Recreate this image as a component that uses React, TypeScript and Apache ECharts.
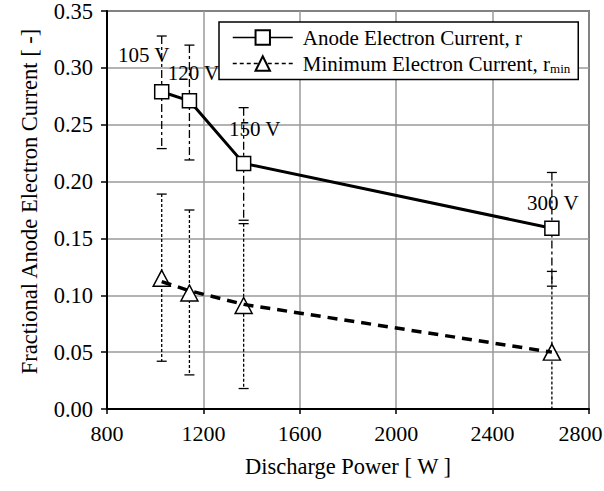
import React, { useEffect, useRef } from "react";
import * as echarts from "echarts";

const power = [1027, 1142, 1367, 2646];
const anodeCurrent = [0.279, 0.271, 0.216, 0.159];
const anodeErrLow = [0.229, 0.219, 0.166, 0.108];
const anodeErrHigh = [0.328, 0.320, 0.265, 0.208];
const minCurrent = [0.115, 0.102, 0.091, 0.050];
const minErrLow = [0.042, 0.030, 0.018, -0.021];
const minErrHigh = [0.189, 0.175, 0.163, 0.121];
const minTrend = [0.112, 0.104, 0.092, 0.050];
const voltageLabels = ["105 V", "120 V", "150 V", "300 V"];
const labelOffsets = [[-18, -37], [4, -28], [11, -34], [1, -25]];
const xTicks = { min: 800, max: 2800, interval: 400 };
const yTicks = { min: 0, max: 0.35, interval: 0.05 };

const FONT = "Liberation Serif";
const NAME_ANODE = "Anode Electron Current, r";
const NAME_MIN = "Minimum Electron Current, r_min";

function errorBarRender(dash: number[]) {
  return (params: any, api: any) => {
    const x = api.value(0);
    const lo = api.value(1);
    const hi = api.value(2);
    const p1 = api.coord([x, hi]);
    const p2 = api.coord([x, lo]);
    const w = 5;
    return {
      type: "group",
      children: [
        { type: "line", shape: { x1: p1[0], y1: p1[1], x2: p2[0], y2: p2[1] }, style: { stroke: "#000", lineWidth: 1.3, lineDash: dash } },
        { type: "line", shape: { x1: p1[0] - w, y1: p1[1], x2: p1[0] + w, y2: p1[1] }, style: { stroke: "#000", lineWidth: 1.3 } },
        { type: "line", shape: { x1: p2[0] - w, y1: p2[1], x2: p2[0] + w, y2: p2[1] }, style: { stroke: "#000", lineWidth: 1.3 } },
      ],
    };
  };
}

export default function App() {
  const ref = useRef<HTMLDivElement>(null);
  useEffect(() => {
    if (!ref.current) return;
    const chart = echarts.init(ref.current, null, { renderer: "svg" });
    const option: any = {
      animation: false,
      backgroundColor: "#fff",
      textStyle: { fontFamily: FONT },
      grid: {
        left: 107, right: 15, top: 11, bottom: 82,
        outerBoundsMode: "none", containLabel: false,
        show: true, borderColor: "#000", borderWidth: 1.5,
      },
      legend: {
        left: 219,
        top: 22,
        orient: "vertical",
        backgroundColor: "#fff",
        borderColor: "#000",
        borderWidth: 1.5,
        borderRadius: 0,
        padding: [5, 8, 5, 13],
        itemGap: 5,
        itemWidth: 60,
        itemHeight: 18,
        textStyle: {
          fontFamily: FONT,
          fontSize: 21,
          color: "#000",
          padding: [0, 0, 0, 5],
          rich: {
            sub: { fontFamily: FONT, fontSize: 13, color: "#000", padding: [9, 0, 0, 0] },
          },
        },
        formatter: (name: string) => (name === NAME_MIN ? "Minimum Electron Current, r{sub|min}" : name),
        data: [
          { name: NAME_ANODE, lineStyle: { width: 1.5, type: "solid", color: "#000", opacity: 1 } },
          { name: NAME_MIN, lineStyle: { width: 1.5, type: [4, 3], color: "#000", opacity: 1 } },
        ],
      },
      xAxis: {
        type: "value",
        min: xTicks.min,
        max: xTicks.max,
        interval: xTicks.interval,
        name: "Discharge Power [ W ]",
        nameLocation: "middle",
        nameGap: 46,
        nameTextStyle: { fontFamily: FONT, fontSize: 22.5, color: "#000" },
        axisLine: { lineStyle: { color: "#000", width: 2 } },
        axisTick: { show: true, length: 5, lineStyle: { color: "#000", width: 1.5 } },
        axisLabel: {
          fontFamily: FONT, fontSize: 22, color: "#000", margin: 13,
          formatter: (v: number) => (v === xTicks.max ? `{last|${v}}` : String(v)),
          rich: { last: { fontFamily: FONT, fontSize: 22, color: "#000", padding: [0, 17, 0, 0] } },
        },
        splitLine: { show: true, lineStyle: { color: "#9a9a9a", width: 1.5 } },
      },
      yAxis: {
        type: "value",
        min: yTicks.min,
        max: yTicks.max,
        interval: yTicks.interval,
        name: "Fractional Anode Electron Current [ -]",
        nameLocation: "middle",
        nameGap: 66,
        nameTextStyle: { fontFamily: FONT, fontSize: 22.5, color: "#000", padding: [0, 0, 0, 17] },
        axisLine: { show: true, lineStyle: { color: "#000", width: 2 } },
        axisTick: { show: true, length: 6, lineStyle: { color: "#000", width: 1.5 } },
        axisLabel: { fontFamily: FONT, fontSize: 22.5, color: "#000", margin: 14, formatter: (v: number) => v.toFixed(2) },
        splitLine: { show: true, lineStyle: { color: "#9a9a9a", width: 1.5 } },
      },
      series: [
        {
          type: "custom",
          name: "anodeErr",
          renderItem: errorBarRender([8, 3, 3, 3]),
          encode: { x: 0, y: [1, 2] },
          data: power.map((p, i) => [p, anodeErrLow[i], anodeErrHigh[i]]),
          clip: true,
          z: 2,
        },
        {
          type: "custom",
          name: "minErr",
          renderItem: errorBarRender([3, 2]),
          encode: { x: 0, y: [1, 2] },
          data: power.map((p, i) => [p, minErrLow[i], minErrHigh[i]]),
          clip: true,
          z: 2,
        },
        {
          type: "line",
          name: NAME_MIN,
          data: power.map((p, i) => [p, minCurrent[i]]),
          symbol: "triangle",
          symbolSize: [17, 16],
          showAllSymbol: true,
          lineStyle: { width: 0, opacity: 0 },
          itemStyle: { color: "#fff", borderColor: "#000", borderWidth: 1.5 },
          z: 3,
        },
        {
          type: "line",
          name: "trend",
          data: power.map((p, i) => [p, minTrend[i]]),
          symbol: "none",
          lineStyle: { color: "#000", width: 3.5, type: [10, 7] },
          z: 4,
        },
        {
          type: "line",
          name: NAME_ANODE,
          data: power.map((p, i) => ({
            value: [p, anodeCurrent[i]],
            label: { show: true, formatter: voltageLabels[i], position: "inside", offset: labelOffsets[i] },
          })),
          symbol: "rect",
          symbolSize: 14,
          showAllSymbol: true,
          lineStyle: { color: "#000", width: 3 },
          itemStyle: { color: "#fff", borderColor: "#000", borderWidth: 1.5 },
          label: { fontFamily: FONT, fontSize: 21, color: "#000" },
          z: 5,
        },
      ],
    };
    chart.setOption(option);
    return () => chart.dispose();
  }, []);
  return <div ref={ref} style={{ position: "fixed", left: 0, top: 0, width: 604, height: 491 }} />;
}
